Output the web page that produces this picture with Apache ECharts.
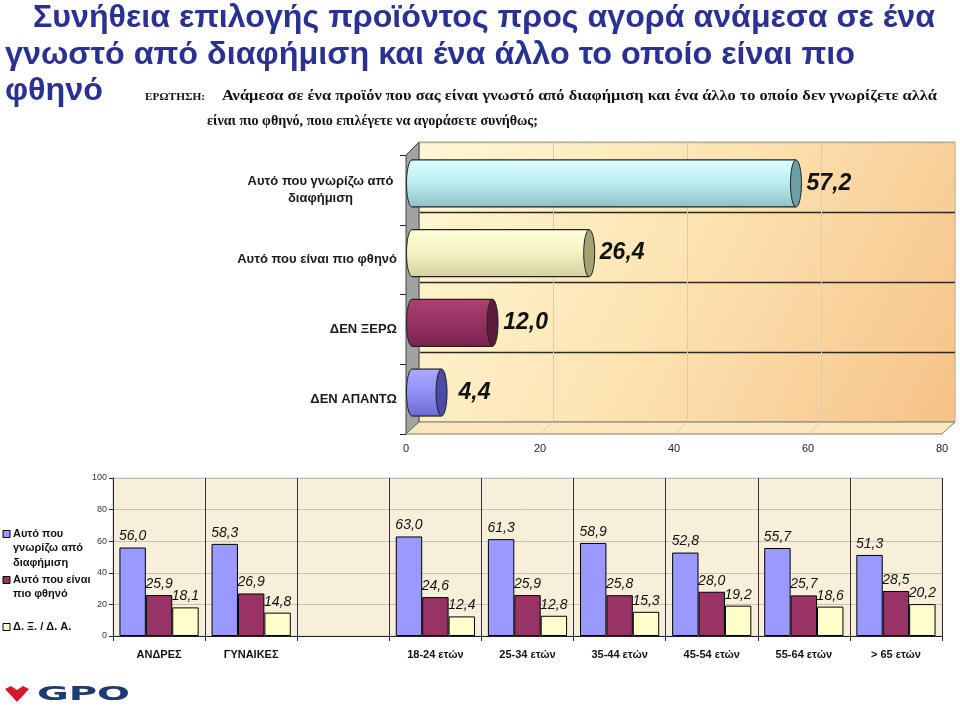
<!DOCTYPE html>
<html><head><meta charset="utf-8">
<script src="https://cdn.jsdelivr.net/npm/echarts@6/dist/echarts.min.js"></script>
<style>html,body{margin:0;padding:0;background:#fff}#c{width:960px;height:707px}</style>
</head><body><div id="c"></div>
<script>
// ---------- DATA ----------
const titleLines = [
  'Συνήθεια επιλογής προϊόντος προς αγορά ανάμεσα σε ένα',
  'γνωστό από διαφήμιση και ένα άλλο το οποίο είναι πιο',
  'φθηνό'
];
const questionLabel = 'ΕΡΩΤΗΣΗ:';
const questionLines = [
  'Ανάμεσα σε ένα προϊόν που σας είναι γνωστό από διαφήμιση και ένα άλλο το οποίο δεν γνωρίζετε αλλά',
  'είναι πιο φθηνό, ποιο επιλέγετε να αγοράσετε συνήθως;'
];
const hCategories = ['Αυτό που γνωρίζω από\nδιαφήμιση', 'Αυτό που είναι πιο φθηνό', 'ΔΕΝ ΞΕΡΩ', 'ΔΕΝ ΑΠΑΝΤΩ'];
const hValues = [57.2, 26.4, 12.0, 4.4];
const hTicks = [0, 20, 40, 60, 80];

const groups = ['ΑΝΔΡΕΣ', 'ΓΥΝΑΙΚΕΣ', '', '18-24 ετών', '25-34 ετών', '35-44 ετών', '45-54 ετών', '55-64 ετών', '> 65 ετών'];
const seriesNames = ['Αυτό που γνωρίζω από διαφήμιση', 'Αυτό που είναι πιο φθηνό', 'Δ. Ξ. / Δ. Α.'];
const legendLabels = ['Αυτό που\nγνωρίζω από\nδιαφήμιση', 'Αυτό που είναι\nπιο φθηνό', 'Δ. Ξ. / Δ. Α.'];
const knownAd = [56.0, 58.3, null, 63.0, 61.3, 58.9, 52.8, 55.7, 51.3];
const cheaper = [25.9, 26.9, null, 24.6, 25.9, 25.8, 28.0, 25.7, 28.5];
const dkna    = [18.1, 14.8, null, 12.4, 12.8, 15.3, 19.2, 18.6, 20.2];
const vTicks = [0, 20, 40, 60, 80, 100];
const logoText = 'GPO';

// ---------- STYLE ----------
const FONT = '"Liberation Sans", Arial, sans-serif';
const SERIF = '"Liberation Serif", "Times New Roman", serif';
const seriesColors = ['#9999FF', '#993366', '#FFFFCC'];
const cylColors = [
  {top: '#DAFFFF', mid: '#BFEFF1', bot: '#8FC2C8', cap: '#6A9FA6'},
  {top: '#FFFFDA', mid: '#F5F2C6', bot: '#D6D29C', cap: '#A5A172'},
  {top: '#AC4272', mid: '#983363', bot: '#7A2450', cap: '#5C1A3C'},
  {top: '#ABABFF', mid: '#9393F5', bot: '#6B6BD8', cap: '#4B4BA6'}
];
const fmt = v => (v == null ? '' : v.toFixed(1).replace('.', ','));

const ctx = document.createElement('canvas').getContext('2d');
function measure(text, font) { ctx.font = font; return ctx.measureText(text).width; }

const titleFont = 'bold 32px ' + FONT;
const s1 = 902 / measure(titleLines[0], titleFont);
const s2 = 850 / measure(titleLines[1], titleFont);
const sT = (s1 + s2) / 2;
const qFont = 'bold 15px ' + SERIF;
const qlFont = 'bold 11px ' + SERIF;
const sq1 = 715 / measure(questionLines[0], qFont);
const sq2 = 331 / measure(questionLines[1], qFont);
const sql = 60 / measure(questionLabel, qlFont);
const logoFont = 'bold 20px "DejaVu Sans", sans-serif';
const sLogo = 93 / measure(logoText, logoFont);

function renderCyl(params, api) {
  const v = api.value(0), i = api.value(1);
  const p0 = api.coord([0, i]), p1 = api.coord([v, i]);
  const band = api.size([0, 1])[1];
  const h = band * 0.674, ry = h / 2, rx = 5.5, cy = p0[1];
  const x0 = p0[0] - rx, x1 = p1[0];
  const c = cylColors[params.dataIndex];
  const grad = new echarts.graphic.LinearGradient(0, 0, 0, 1, [
    {offset: 0, color: c.top}, {offset: 0.45, color: c.mid}, {offset: 1, color: c.bot}]);
  return {type: 'group', children: [
    {type: 'ellipse', shape: {cx: x0 + rx, cy: cy, rx: rx, ry: ry}, style: {fill: grad, stroke: '#222', lineWidth: 1}},
    {type: 'rect', shape: {x: x0 + rx, y: cy - ry, width: x1 - x0 - rx, height: h}, style: {fill: grad}},
    {type: 'line', shape: {x1: x0 + rx, y1: cy - ry, x2: x1, y2: cy - ry}, style: {stroke: '#222', lineWidth: 1.2}},
    {type: 'line', shape: {x1: x0 + rx, y1: cy + ry, x2: x1, y2: cy + ry}, style: {stroke: '#222', lineWidth: 1.2}},
    {type: 'ellipse', shape: {cx: x1, cy: cy, rx: rx, ry: ry}, style: {fill: c.cap, stroke: '#222', lineWidth: 1}},
    {type: 'text', x: x1 + 33, y: cy, style: {text: fmt(v), font: 'italic bold 23px ' + FONT, fill: '#111', align: 'center', verticalAlign: 'middle'}}
  ]};
}

const chart = echarts.init(document.getElementById('c'), null, {renderer: 'canvas'});

const legendGraphics = [];
const legendY = [534, 580, 627];
legendLabels.forEach((lab, i) => {
  legendGraphics.push({type: 'rect', z: 10, shape: {x: 3, y: legendY[i] - 3.5, width: 7, height: 7},
    style: {fill: seriesColors[i], stroke: '#000', lineWidth: 1}});
  legendGraphics.push({type: 'text', z: 10, x: 13, y: legendY[i] - 7.5,
    style: {text: lab, font: 'bold 11px ' + FONT, fill: '#111', lineHeight: 14.5, verticalAlign: 'top'}});
});

// floor depth lines of the 3D chart (decoration, from front-plane tick positions)
const floorLines = hTicks.slice(1, -1).map(t => {
  const fx = 406 + t / 80 * 536;
  return {type: 'line', z: 2, shape: {x1: fx, y1: 434, x2: fx + 13, y2: 422}, style: {stroke: '#D9CDB0', lineWidth: 1}};
});

const option = {
  backgroundColor: '#ffffff',
  animation: false,
  textStyle: {fontFamily: FONT},
  grid: [
    {left: 419, top: 142, width: 536, height: 280, show: true, borderColor: '#B8B0A0', borderWidth: 1,
     backgroundColor: new echarts.graphic.LinearGradient(0, 0, 1, 1, [
       {offset: 0, color: '#FFF8D4'}, {offset: 0.5, color: '#FCE2B0'}, {offset: 1, color: '#F6C288'}])},
    {left: 412, top: 148.6, width: 537, height: 278.8},
    {left: 406, top: 155, width: 536, height: 279},
    {left: 113, top: 478, width: 829, height: 158, show: true, backgroundColor: '#F8EFDA', borderColor: '#C8C8C8', borderWidth: 1}
  ],
  xAxis: [
    {gridIndex: 0, type: 'value', min: 0, max: 80, interval: 20, axisLabel: {show: false}, axisLine: {show: false}, axisTick: {show: false},
     splitLine: {show: true, lineStyle: {color: '#D9CDB0', width: 1}}},
    {gridIndex: 1, type: 'value', min: 0, max: 80, interval: 20, show: false},
    {gridIndex: 2, type: 'value', min: hTicks[0], max: hTicks[hTicks.length - 1], interval: 20, axisLine: {show: false}, axisTick: {show: false},
     splitLine: {show: false}, axisLabel: {fontSize: 11, color: '#222', margin: 9}},
    {gridIndex: 3, type: 'category', data: groups, axisLine: {show: true, lineStyle: {color: '#222', width: 1}},
     axisTick: {show: true, length: 5, interval: 0, lineStyle: {color: '#222'}},
     axisLabel: {interval: 0, fontSize: 11, fontWeight: 'bold', color: '#111', margin: 13},
     splitLine: {show: true, interval: 0, lineStyle: {color: '#333', width: 1}}}
  ],
  yAxis: [
    {gridIndex: 0, type: 'value', min: 0, max: 4, interval: 1, axisLabel: {show: false}, axisLine: {show: false}, axisTick: {show: false},
     splitLine: {show: true, lineStyle: {color: ['#B8B0A0', '#2a2a2a', '#2a2a2a', '#2a2a2a', '#B8B0A0'], width: 1.3}}},
    {gridIndex: 1, type: 'category', data: hCategories, inverse: true, show: false},
    {gridIndex: 2, type: 'category', data: hCategories, inverse: true,
     axisLine: {show: true, lineStyle: {color: '#222', width: 1}},
     axisTick: {show: true, length: 6, lineStyle: {color: '#222'}},
     splitLine: {show: false},
     axisLabel: {margin: 9, fontSize: 13, fontWeight: 'bold', color: '#1a1a1a', lineHeight: 17,
       formatter: v => v.indexOf('\n') >= 0 ? v.split('\n').map(l => '{c|' + l + '}').join('\n') : v,
       rich: {c: {width: 153, align: 'center', fontSize: 13, fontWeight: 'bold', color: '#1a1a1a', lineHeight: 17, fontFamily: FONT}}}},
    {gridIndex: 3, type: 'value', min: vTicks[0], max: vTicks[vTicks.length - 1], interval: 20,
     axisLine: {show: true, lineStyle: {color: '#222'}}, axisTick: {show: true, length: 4, lineStyle: {color: '#222'}},
     axisLabel: {fontSize: 9, color: '#333', margin: 6},
     splitLine: {show: true, lineStyle: {color: '#C4C0B8', width: 1}}}
  ],
  graphic: [
    {type: 'polygon', z: 1, shape: {points: [[406, 155], [419, 142], [419, 422], [406, 434]]},
     style: {fill: '#A2A2A2', stroke: '#444', lineWidth: 1}},
    {type: 'polygon', z: 1, shape: {points: [[406, 434], [419, 422], [955, 422], [942, 434]]},
     style: {fill: '#FCE8BC', stroke: '#777', lineWidth: 1}},
    {type: 'text', z: 10, x: 33, y: 18, scaleX: s1, style: {text: titleLines[0], font: titleFont, fill: '#2B3190', verticalAlign: 'middle'}},
    {type: 'text', z: 10, x: 5, y: 55, scaleX: s2, style: {text: titleLines[1], font: titleFont, fill: '#2B3190', verticalAlign: 'middle'}},
    {type: 'text', z: 10, x: 5, y: 91, scaleX: sT, style: {text: titleLines[2], font: titleFont, fill: '#2B3190', verticalAlign: 'middle'}},
    {type: 'text', z: 10, x: 145, y: 97, scaleX: sql, style: {text: questionLabel, font: qlFont, fill: '#111', verticalAlign: 'middle'}},
    {type: 'text', z: 10, x: 222, y: 96, scaleX: sq1, style: {text: questionLines[0], font: qFont, fill: '#111', verticalAlign: 'middle'}},
    {type: 'text', z: 10, x: 207, y: 121, scaleX: sq2, style: {text: questionLines[1], font: qFont, fill: '#111', verticalAlign: 'middle'}},
    {type: 'polygon', z: 10, shape: {points: [[5, 689], [11, 686], [17, 690], [23, 686], [29, 689], [17, 702]]}, style: {fill: '#D6172C'}},
    {type: 'text', z: 10, x: 37, y: 695, scaleX: sLogo, style: {text: logoText, font: logoFont, fill: '#1F3A72', verticalAlign: 'middle'}}
  ].concat(floorLines, legendGraphics),
  series: [
    {type: 'custom', xAxisIndex: 1, yAxisIndex: 1, renderItem: renderCyl, z: 5,
     encode: {x: 0, y: 1}, data: hValues.map((v, i) => [v, i])},
    {type: 'bar', name: seriesNames[0], xAxisIndex: 3, yAxisIndex: 3, data: knownAd},
    {type: 'bar', name: seriesNames[1], xAxisIndex: 3, yAxisIndex: 3, data: cheaper},
    {type: 'bar', name: seriesNames[2], xAxisIndex: 3, yAxisIndex: 3, data: dkna}
  ].map((s, k) => {
    if (s.type !== 'bar') return s;
    return Object.assign(s, {
      barGap: '0%', barCategoryGap: '14%',
      itemStyle: {color: seriesColors[k - 1], borderColor: '#000', borderWidth: 1},
      label: {show: true, position: 'top', distance: 4, fontSize: 14, fontStyle: 'italic', color: '#111',
        formatter: p => fmt(p.value)}
    });
  })
};
chart.setOption(option);
</script>
</body></html>
